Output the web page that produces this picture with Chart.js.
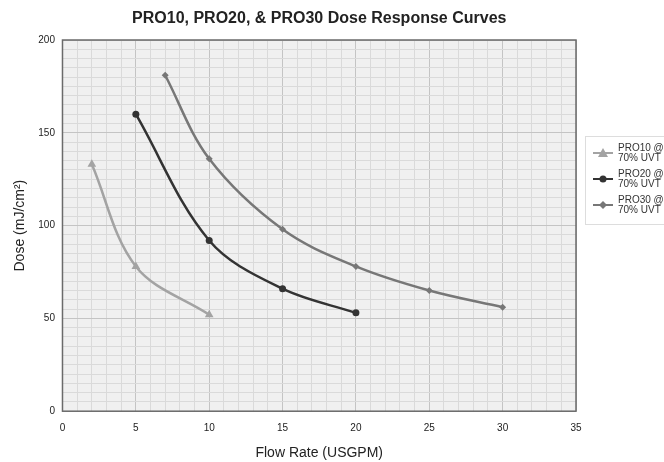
<!DOCTYPE html>
<html>
<head>
<meta charset="utf-8">
<script src="https://cdn.jsdelivr.net/npm/chart.js@4"></script>
<style>
  body { margin: 0; background: #fff; font-family: "Liberation Sans", Arial, sans-serif; }
  #wrap { position: relative; width: 664px; height: 462px; }
  #legend { position: absolute; left: 585px; top: 136px; width: 84px; border: 1px solid #ddd; padding: 3px 0 6px 0; background: #fff; }
  .item { display: flex; align-items: center; height: 26px; }
  .item canvas { margin-left: 7px; margin-right: 5px; }
  .item span { font-size: 10px; line-height: 10px; color: #333; }
</style>
</head>
<body>
<div id="wrap">
  <canvas id="chart" width="664" height="462"></canvas>
  <div id="legend"></div>
</div>
<script>
const chartTitle = "PRO10, PRO20, & PRO30 Dose Response Curves";
const seriesNames = ["PRO10 @\n70% UVT", "PRO20 @\n70% UVT", "PRO30 @\n70% UVT"];
const pro10 = [{x: 2, y: 133}, {x: 5, y: 78}, {x: 10, y: 52}];
const pro20 = [{x: 5, y: 160}, {x: 10, y: 92}, {x: 15, y: 66}, {x: 20, y: 53}];
const pro30 = [{x: 7, y: 181}, {x: 10, y: 136}, {x: 15, y: 98}, {x: 20, y: 78}, {x: 25, y: 65}, {x: 30, y: 56}];
const colors = ["#a3a3a3", "#333333", "#777777"];
const markers = ["triangle", "circle", "rectRot"];

// grey plot background, border and title centred on the plot
const plotBg = {
  id: "plotBg",
  beforeDraw(chart) {
    const a = chart.chartArea, ctx = chart.ctx;
    ctx.save();
    ctx.fillStyle = "#f0f0f0";
    ctx.fillRect(a.left, a.top, a.right - a.left, a.bottom - a.top);
    ctx.restore();
  },
  afterDatasetsDraw(chart) {
    const a = chart.chartArea, ctx = chart.ctx;
    ctx.save();
    ctx.strokeStyle = "#6b6b6b";
    ctx.lineWidth = 1.5;
    ctx.strokeRect(a.left, a.top, a.right - a.left, a.bottom - a.top);
    ctx.fillStyle = "#222";
    ctx.font = "bold 16px 'Liberation Sans'";
    ctx.textAlign = "center";
    ctx.textBaseline = "middle";
    ctx.fillText(chartTitle, (a.left + a.right) / 2, 19);
    ctx.restore();
  }
};

const allData = [pro10, pro20, pro30];
const datasets = allData.map((d, i) => ({
  label: seriesNames[i],
  data: d,
  borderColor: colors[i],
  backgroundColor: colors[i],
  borderWidth: 2.5,
  pointStyle: markers[i],
  pointRadius: i == 0 ? 5 : 3.5,
  pointBorderWidth: 0,
  tension: 0.35,
  showLine: true
}));

new Chart(document.getElementById("chart"), {
  type: "scatter",
  data: { datasets: datasets },
  options: {
    responsive: false,
    animation: false,
    layout: { padding: { left: 12, right: 88, top: 40, bottom: 0 } },
    plugins: {
      legend: { display: false },
      tooltip: { enabled: false }
    },
    scales: {
      x: {
        min: 0, max: 35,
        border: { display: false },
        ticks: {
          stepSize: 1, autoSkip: false, maxRotation: 0,
          font: { size: 10, family: "Liberation Sans" }, color: "#222", padding: 11,
          callback: v => (v % 5 === 0 ? v : "")
        },
        grid: {
          drawTicks: false,
          color: c => (c.tick.value % 5 === 0 ? "#c4c4c4" : "#dadada"),
          lineWidth: 1
        },
        title: { display: true, text: "Flow Rate (USGPM)", font: { size: 14, family: "Liberation Sans" }, color: "#222", padding: { top: 0, bottom: 0 } }
      },
      y: {
        min: 0, max: 200,
        border: { display: false },
        ticks: {
          stepSize: 5, autoSkip: false,
          font: { size: 10, family: "Liberation Sans" }, color: "#222", padding: 7.5,
          callback: v => (v % 50 === 0 ? v : "")
        },
        grid: {
          drawTicks: false,
          color: c => (c.tick.value % 50 === 0 ? "#c4c4c4" : "#dadada"),
          lineWidth: 1
        },
        title: { display: true, text: "Dose (mJ/cm²)", font: { size: 14, family: "Liberation Sans" }, color: "#222", padding: { top: 0, bottom: 2 } }
      }
    }
  },
  plugins: [plotBg]
});

// html legend
const legend = document.getElementById("legend");
seriesNames.forEach((name, i) => {
  const item = document.createElement("div");
  item.className = "item";
  const c = document.createElement("canvas");
  c.width = 20; c.height = 10;
  const g = c.getContext("2d");
  g.strokeStyle = colors[i]; g.fillStyle = colors[i]; g.lineWidth = 2;
  g.beginPath(); g.moveTo(0, 5); g.lineTo(20, 5); g.stroke();
  g.beginPath();
  if (markers[i] === "triangle") { g.moveTo(10, 0); g.lineTo(15, 9); g.lineTo(5, 9); }
  else if (markers[i] === "circle") { g.arc(10, 5, 3.5, 0, Math.PI * 2); }
  else { g.moveTo(10, 1); g.lineTo(14, 5); g.lineTo(10, 9); g.lineTo(6, 5); }
  g.closePath(); g.fill();
  const s = document.createElement("span");
  s.innerHTML = name.replace("\n", "<br>");
  item.appendChild(c); item.appendChild(s);
  legend.appendChild(item);
});
</script>
</body>
</html>
